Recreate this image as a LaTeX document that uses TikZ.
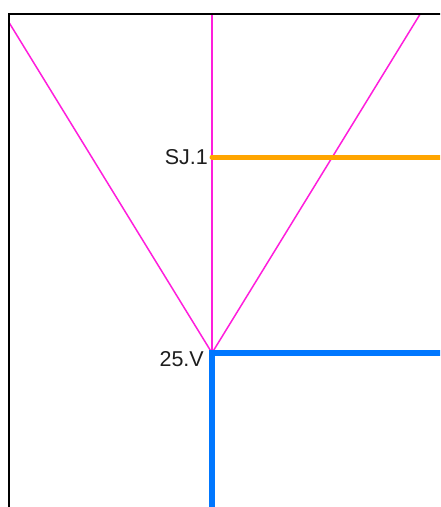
\documentclass[tikz,border=0pt]{standalone}
\usepackage{fontspec}
\setmainfont{Liberation Sans}
\definecolor{pinkline}{RGB}{255,30,220}
\definecolor{orangeline}{RGB}{255,165,0}
\definecolor{blueline}{RGB}{0,119,255}
\definecolor{labeltext}{RGB}{30,30,30}
\tikzset{
  frameline/.style={draw=black,line width=2pt},
  vline/.style={draw=pinkline,line width=1.5pt},
  orangebar/.style={draw=orangeline,line width=5pt,line cap=round},
  bluebar/.style={draw=blueline,line width=6pt},
  lbl/.style={anchor=east,inner sep=0pt,text=labeltext,font=\fontsize{21.5}{23}\selectfont}
}
\begin{document}
\begin{tikzpicture}[x=1pt,y=1pt]
\useasboundingbox (0,0) rectangle (440,-507);
\fill[white] (0,0) rectangle (440,-507);
\begin{scope}
\clip (0,0) rectangle (440,-507);
\coordinate (apex) at (212,-353);
\coordinate (top) at (212,-13.5);
\coordinate (sj) at (212,-157);
\coordinate (sjend) at (445,-157);
\coordinate (vend) at (447,-353);
\coordinate (bot) at (212,-515);
\coordinate (rtop) at (420.5,-13.5);
\coordinate (ltop) at (3.5,-13.5);
\begin{scope}
\clip (8.5,-13.5) rectangle (440,-507);
\draw[vline] (apex) -- (ltop);
\draw[vline] (apex) -- (rtop);
\draw[vline] (apex) -- (top);
\end{scope}
\draw[orangebar] (sj) -- (sjend);
\draw[bluebar] (vend) -- (apex) -- (bot);
\draw[frameline] (460,-13.5) -- (8.5,-13.5) -- (8.5,-530);
\node[lbl] (sjlabel) at (208,-157) {SJ.1};
\node[lbl] (vlabel) at (204,-359) {25.V};
\end{scope}
\end{tikzpicture}
\end{document}
